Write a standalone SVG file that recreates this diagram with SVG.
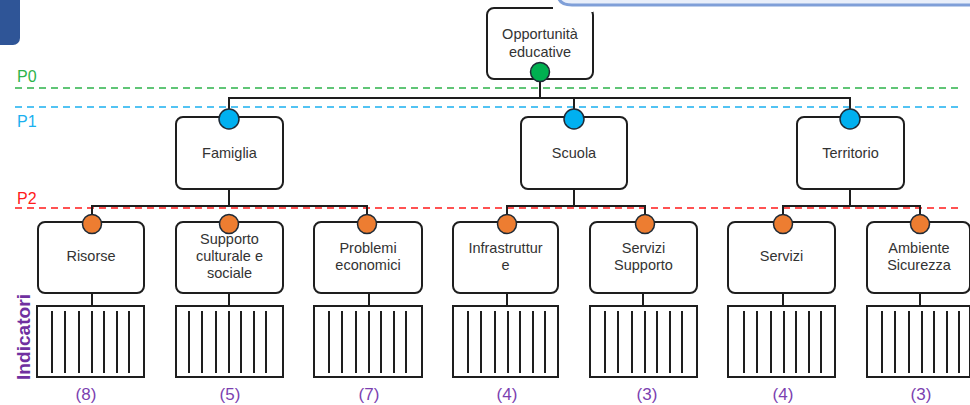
<svg xmlns="http://www.w3.org/2000/svg" width="970" height="405" viewBox="0 0 970 405">
<style>
.box{fill:#fff;stroke:#1e1e1e;stroke-width:2}
.ind{fill:#fff;stroke:#1e1e1e;stroke-width:2}
.bar{stroke:#1e1e1e;stroke-width:2}
.con{fill:none;stroke:#1e1e1e;stroke-width:2}
.t{font-family:"Liberation Sans",Arial,sans-serif;font-size:14.5px;fill:#333;text-anchor:middle}
.cnt{font-family:"Liberation Sans",Arial,sans-serif;font-size:17px;fill:#7b3fb0;text-anchor:middle}
.lvl{font-family:"Liberation Sans",Arial,sans-serif;font-size:16px}
.c0{fill:#00b050;stroke:#1e2a36;stroke-width:1.5}
.c1{fill:#00b0f0;stroke:#1e2a36;stroke-width:1.5}
.c2{fill:#ed7d31;stroke:#1e2a36;stroke-width:1.5}
</style>
<defs>
<g id="bars">
<line class="bar" x1="15" y1="5" x2="15" y2="67"/>
<line class="bar" x1="28" y1="5" x2="28" y2="67"/>
<line class="bar" x1="42" y1="5" x2="42" y2="67"/>
<line class="bar" x1="55" y1="5" x2="55" y2="67"/>
<line class="bar" x1="67" y1="5" x2="67" y2="67"/>
<line class="bar" x1="80" y1="5" x2="80" y2="67"/>
<line class="bar" x1="92" y1="5" x2="92" y2="67"/>
</g>
</defs>
<rect width="970" height="405" fill="#fff"/>
<!-- decorative corner shape -->
<rect x="-12" y="-12" width="32" height="57" rx="7" fill="#2f5597"/>
<!-- level lines -->
<g id="levels">
<line x1="15" y1="88" x2="960" y2="88" stroke="#2db34a" stroke-width="1.6" stroke-dasharray="7 5"/>
<line x1="15" y1="107" x2="960" y2="107" stroke="#1ab0ef" stroke-width="1.6" stroke-dasharray="7 5"/>
<line x1="15" y1="208" x2="960" y2="208" stroke="#ff1a1a" stroke-width="1.6" stroke-dasharray="7 5"/>
<text class="lvl" x="17" y="82" fill="#2db34a">P0</text>
<text class="lvl" x="17" y="127" fill="#1ab0ef">P1</text>
<text class="lvl" x="17" y="204" fill="#ff1a1a">P2</text>
</g>
<!-- connectors -->
<g id="connectors">
<path class="con" d="M540 72V98M229 119V98H850V119M574 98V119"/>
<path class="con" d="M229 189V206M92 224V206H367V224"/>
<path class="con" d="M574 189V206M507 224V206H645V224"/>
<path class="con" d="M850 189V206M783 224V206H920V224"/>
<path class="con" d="M92 293V306M229 293V306M369 293V306M507 293V306M643 293V306M783 293V306M920 293V306"/>
</g>
<!-- root -->
<g id="root">
<rect class="box" x="487" y="8" width="106" height="71" rx="7"/>
<rect x="553" y="0" width="40" height="12" fill="#fff"/>
<text class="t" x="540" y="39">Opportunità</text>
<text class="t" x="540" y="57">educative</text>
<circle class="c0" cx="540" cy="72" r="9.5"/>
</g>
<path d="M558 -20V-6Q558 5 572 5H990V-20Z" fill="#e9effa" stroke="#7f9fd8" stroke-width="3"/>
<!-- level 1 -->
<g id="famiglia">
<rect class="box" x="176" y="117" width="107" height="72" rx="7"/>
<text class="t" x="229.5" y="158">Famiglia</text>
<circle class="c1" cx="229" cy="119" r="10"/>
</g>
<g id="scuola">
<rect class="box" x="521" y="117" width="106" height="72" rx="7"/>
<text class="t" x="574" y="158">Scuola</text>
<circle class="c1" cx="574" cy="119" r="10"/>
</g>
<g id="territorio">
<rect class="box" x="797" y="117" width="107" height="72" rx="7"/>
<text class="t" x="850.5" y="158">Territorio</text>
<circle class="c1" cx="850" cy="119" r="10"/>
</g>
<!-- level 2 -->
<g id="risorse">
<rect class="box" x="38" y="222" width="106" height="71" rx="7"/>
<text class="t" x="91" y="261">Risorse</text>
<circle class="c2" cx="92" cy="224" r="9.5"/>
</g>
<g id="supporto">
<rect class="box" x="176" y="222" width="107" height="71" rx="7"/>
<text class="t" x="229.5" y="244">Supporto</text>
<text class="t" x="229.5" y="261">culturale e</text>
<text class="t" x="229.5" y="278">sociale</text>
<circle class="c2" cx="229" cy="224" r="9.5"/>
</g>
<g id="problemi">
<rect class="box" x="314" y="222" width="108" height="71" rx="7"/>
<text class="t" x="368" y="253">Problemi</text>
<text class="t" x="368" y="270">economici</text>
<circle class="c2" cx="367" cy="224" r="9.5"/>
</g>
<g id="infrastrutture">
<rect class="box" x="453" y="222" width="105" height="71" rx="7"/>
<text class="t" x="505.5" y="253">Infrastruttur</text>
<text class="t" x="505.5" y="270">e</text>
<circle class="c2" cx="507" cy="224" r="9.5"/>
</g>
<g id="servizisupporto">
<rect class="box" x="590" y="222" width="107" height="71" rx="7"/>
<text class="t" x="643.5" y="253">Servizi</text>
<text class="t" x="643.5" y="270">Supporto</text>
<circle class="c2" cx="645" cy="224" r="9.5"/>
</g>
<g id="servizi">
<rect class="box" x="728" y="222" width="107" height="71" rx="7"/>
<text class="t" x="781.5" y="261">Servizi</text>
<circle class="c2" cx="783" cy="224" r="9.5"/>
</g>
<g id="ambiente">
<rect class="box" x="867" y="222" width="103" height="71" rx="7"/>
<text class="t" x="919" y="253">Ambiente</text>
<text class="t" x="919" y="270">Sicurezza</text>
<circle class="c2" cx="920" cy="224" r="9.5"/>
</g>
<!-- indicators -->
<g id="indicatori">
<text transform="translate(30,337) rotate(-90)" font-family="Liberation Sans,Arial,sans-serif" font-size="18" font-weight="bold" fill="#7030a0" text-anchor="middle" textLength="86" lengthAdjust="spacingAndGlyphs">Indicatori</text>
<g transform="translate(37,306)"><rect class="ind" x="0" y="0" width="107" height="71"/><use href="#bars"/></g>
<g transform="translate(176,306)"><rect class="ind" x="0" y="0" width="107" height="71"/><use href="#bars" transform="translate(-2,0)"/></g>
<g transform="translate(314,306)"><rect class="ind" x="0" y="0" width="108" height="71"/><use href="#bars"/></g>
<g transform="translate(453,306)"><rect class="ind" x="0" y="0" width="105" height="71"/><use href="#bars"/></g>
<g transform="translate(590,306)"><rect class="ind" x="0" y="0" width="107" height="71"/><use href="#bars"/></g>
<g transform="translate(728,306)"><rect class="ind" x="0" y="0" width="107" height="71"/><use href="#bars" transform="translate(1,0)"/></g>
<g transform="translate(867,306)"><rect class="ind" x="0" y="0" width="103" height="71"/><use href="#bars"/></g>
<text class="cnt" x="86" y="400">(8)</text>
<text class="cnt" x="230" y="400">(5)</text>
<text class="cnt" x="369" y="400">(7)</text>
<text class="cnt" x="507" y="400">(4)</text>
<text class="cnt" x="647" y="400">(3)</text>
<text class="cnt" x="783" y="400">(4)</text>
<text class="cnt" x="921" y="400">(3)</text>
</g>
</svg>
